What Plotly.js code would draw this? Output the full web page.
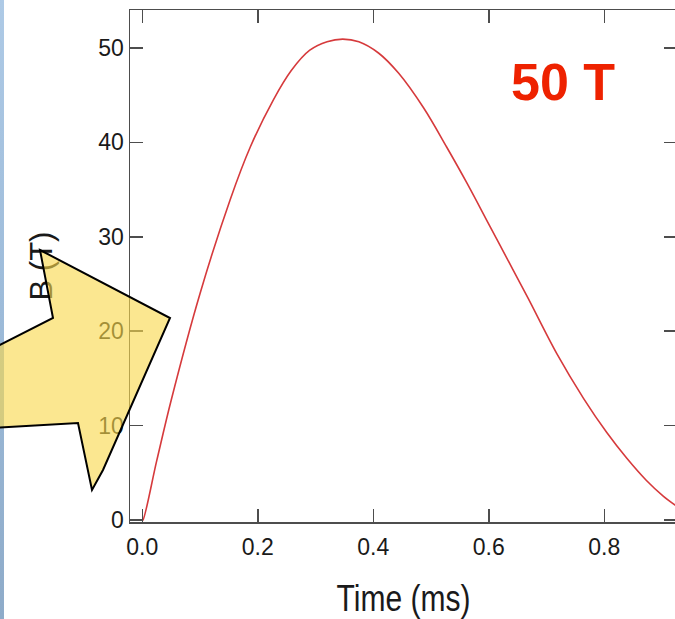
<!DOCTYPE html>
<html>
<head>
<meta charset="utf-8">
<script src="https://cdn.plot.ly/plotly-3.0.1.min.js"></script>
<style>
  html, body { margin: 0; padding: 0; background: #ffffff; overflow: hidden; }
  #wrap { position: relative; width: 675px; height: 619px; overflow: hidden; }
  #chart { position: absolute; left: 0; top: 0; }
  #edge {
    position: absolute; left: 0; top: 0; width: 4px; height: 619px;
    background: linear-gradient(to bottom, #aecae6 0%, #9dbbd9 50%, #8eabc9 100%);
    z-index: 2;
  }
  #pointer { position: absolute; left: 0; top: 0; z-index: 3; pointer-events: none; }
</style>
</head>
<body>
<div id="wrap">
  <div id="chart"></div>
  <div id="edge"></div>
  <svg id="pointer" width="675" height="619" viewBox="0 0 675 619">
    <polygon points="40,250 170,318 103,470 92,490 78,423 -10,428 -10,350 53,318"
             fill="#f9d94c" fill-opacity="0.62" stroke="#000000" stroke-width="2"
             stroke-linejoin="miter"/>
  </svg>
</div>
<script>
// Pulsed magnet field trace: time in ms, field in tesla
const timeMs = [-0.021, 0.0, 0.001, 0.025, 0.05, 0.1, 0.152, 0.187, 0.227, 0.258,
                0.29, 0.32, 0.347, 0.375, 0.409, 0.444, 0.487, 0.527, 0.562, 0.602,
                0.642, 0.668, 0.718, 0.764, 0.804, 0.839, 0.873, 0.902, 0.926];
const fieldT = [0, 0, 0, 6.3, 12.7, 24.0, 33.9, 39.5, 44.5, 47.6,
                49.75, 50.65, 50.92, 50.64, 49.45, 47.3, 43.65, 39.5, 35.7, 31.1,
                26.5, 23.5, 17.6, 12.9, 9.3, 6.55, 4.2, 2.55, 1.45];

const xTickVals = [0, 0.2, 0.4, 0.6, 0.8];
const xTickText = ['0.0', '0.2', '0.4', '0.6', '0.8'];
const yTickVals = [0, 10, 20, 30, 40, 50];
const yTickText = ['0', '10', '20', '30', '40', '50'];
const peakLabel = '50 T';

const axisColor = '#4d4d4d';
const textColor = '#1a1a1a';
const tickFont = { family: 'Liberation Sans, Arial, sans-serif', size: 23, color: textColor };

const trace = {
  x: timeMs,
  y: fieldT,
  type: 'scatter',
  mode: 'lines',
  line: { color: '#d63a3c', width: 1.6, shape: 'spline', smoothing: 1 },
  hoverinfo: 'skip'
};

const commonAxis = {
  ticks: 'inside',
  ticklen: 13,
  tickwidth: 1.5,
  tickcolor: axisColor,
  showline: true,
  linecolor: axisColor,
  linewidth: 1.5,
  mirror: 'ticks',
  showgrid: false,
  zeroline: false,
  automargin: false,
  tickfont: tickFont
};

const layout = {
  width: 677,
  height: 619,
  margin: { l: 130, r: 0, t: 10, b: 97 },
  paper_bgcolor: '#ffffff',
  plot_bgcolor: '#ffffff',
  showlegend: false,
  xaxis: Object.assign({}, commonAxis, {
    range: [-0.0213, 0.9259],
    tickmode: 'array',
    tickvals: xTickVals,
    ticktext: xTickText,
    ticklabelstandoff: 4,
    title: {
      text: 'Time (ms)',
      font: { family: 'Liberation Sans, Arial, sans-serif', size: 36, color: textColor },
      standoff: 27
    }
  }),
  yaxis: Object.assign({}, commonAxis, {
    range: [-0.19, 54],
    tickmode: 'array',
    tickvals: yTickVals,
    ticktext: yTickText,
    title: {
      text: 'B (T)',
      font: { family: 'Liberation Sans, Arial, sans-serif', size: 31, color: textColor },
      standoff: 36
    }
  }),
  annotations: [{
    text: peakLabel,
    xref: 'paper', yref: 'paper',
    x: 0.7916, y: 0.859,
    xanchor: 'center', yanchor: 'middle',
    showarrow: false,
    font: { family: 'Liberation Sans, Arial, sans-serif', size: 52, color: '#ee2200', weight: 'bold' }
  }]
};

Plotly.newPlot('chart', [trace], layout, { staticPlot: true, displayModeBar: false })
  .then(function (gd) {
    // the time label is set in a condensed width
    const xt = gd.querySelector('.xtitle');
    if (xt) {
      xt.setAttribute('textLength', '134');
      xt.setAttribute('lengthAdjust', 'spacingAndGlyphs');
    }
  });
</script>
</body>
</html>
